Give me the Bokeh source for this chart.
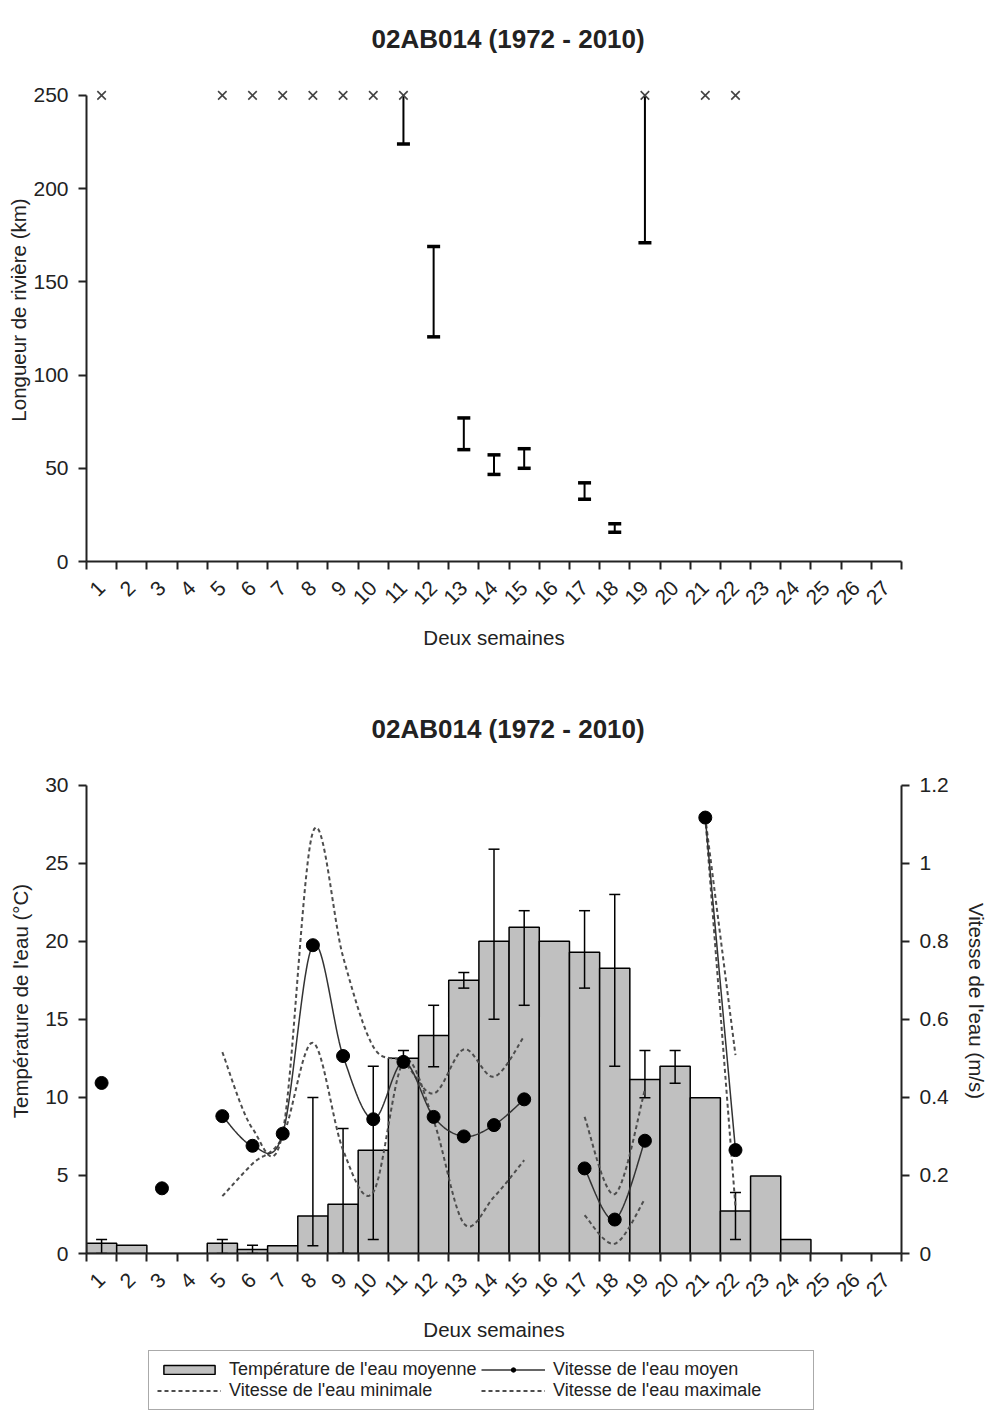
import numpy as np
from bokeh.plotting import figure
from bokeh.layouts import column
from bokeh.models import (Range1d, LinearAxis, FixedTicker, Legend, LegendItem,
                          NumeralTickFormatter)
from bokeh.embed import file_html
from bokeh.resources import INLINE

FONT = "Liberation Sans"
INK = "#222222"
nan = float("nan")

TITLE = "02AB014 (1972 - 2010)"
weeks = list(range(1, 28))

# ---- River length (km) --------------------------------------------------
capped_weeks = [1, 5, 6, 7, 8, 9, 10, 11, 19, 21, 22]   # length at the 250 km limit
cap_length = 250
span_weeks = [11, 12, 13, 14, 15, 17, 18, 19]
span_low = [224, 120.5, 60, 46.7, 50, 33.4, 15.7, 171]
span_high = [250, 169, 77, 57.2, 60.5, 42.2, 20.2, 250]

# ---- Water temperature (°C) ---------------------------------------------
temp_mean = [0.65, 0.53, 0, 0, 0.65, 0.26, 0.49, 2.4, 3.16, 6.62, 12.5, 13.97,
             17.5, 20.0, 20.9, 20.0, 19.3, 18.27, 11.15, 12.0, 9.97, 2.73, 4.97,
             0.9, 0, 0, 0]
temp_err_weeks = [1, 5, 6, 8, 9, 10, 11, 12, 13, 14, 15, 17, 18, 19, 20, 22]
temp_low = [0.0, 0.0, 0.0, 0.5, 0.0, 0.9, 12.0, 11.96, 17.0, 15.0, 15.9, 17.0,
            12.0, 9.97, 10.9, 0.9]
temp_high = [0.9, 0.9, 0.53, 10.0, 8.0, 12.0, 13.0, 15.9, 18.0, 25.9, 21.96,
             21.96, 23.0, 13.0, 13.0, 3.9]

# ---- Water speed (m/s) --------------------------------------------------
speed_mean = [0.437, nan, 0.167, nan, 0.352, 0.276, 0.307, 0.790, 0.506, 0.344,
              0.491, 0.350, 0.300, 0.329, 0.395, nan, 0.218, 0.087, 0.289, nan,
              1.117, 0.265, nan, nan, nan, nan, nan]
speed_min = [0.437, nan, 0.167, nan, 0.147, 0.23, 0.30, 0.540, 0.265, 0.157,
             0.491, 0.34, 0.077, 0.145, 0.239, nan, 0.098, 0.025, 0.14, nan,
             1.117, 0.12, nan, nan, nan, nan, nan]
speed_max = [0.437, nan, 0.167, nan, 0.516, 0.32, 0.31, 1.080, 0.76, 0.53,
             0.491, 0.41, 0.523, 0.453, 0.557, nan, 0.35, 0.152, 0.42, nan,
             1.117, 0.508, nan, nan, nan, nan, nan]

LEGEND_LABELS = ["Température de l'eau moyenne", "Vitesse de l'eau moyen",
                 "Vitesse de l'eau minimale", "Vitesse de l'eau maximale"]

BAR_STYLE = dict(fill_color="#c0c0c0", line_color="black", line_width=1.5)
MEAN_STYLE = dict(line_color="#333333", line_width=1.5)
DOT_STYLE = dict(marker="circle", size=13, fill_color="black", line_color="black")
RANGE_STYLE = dict(line_color="#4d4d4d", line_width=2, line_dash="4 3")

FRAME_LEFT = 86      # shared left border of both charts (px)
FRAME_RIGHT = 89     # shared right border of both charts (px)
TITLE_OFFSET = 285


def smoothed_runs(xs, ys, steps=24):
    """Split a series at gaps and draw each run as a smoothed (Catmull-Rom Bezier) curve."""
    runs, cur = [], []
    for x, y in zip(xs, ys):
        if y is None or np.isnan(y):
            if len(cur) > 1:
                runs.append(cur)
            cur = []
        else:
            cur.append((x, y))
    if len(cur) > 1:
        runs.append(cur)
    out_x, out_y = [], []
    t = np.linspace(0, 1, steps)[1:][:, None]
    for run in runs:
        P = np.array(run, dtype=float)
        pts = [P[0]]
        for i in range(len(P) - 1):
            p0 = P[i - 1] if i > 0 else P[i]
            p1, p2 = P[i], P[i + 1]
            p3 = P[i + 2] if i + 2 < len(P) else P[i + 1]
            c1 = p1 + (p2 - p0) / 6.0
            c2 = p2 - (p3 - p1) / 6.0
            seg = ((1 - t) ** 3) * p1 + 3 * ((1 - t) ** 2) * t * c1 + 3 * (1 - t) * t ** 2 * c2 + t ** 3 * p2
            pts.extend(seg)
        pts = np.array(pts)
        out_x.append(pts[:, 0].tolist())
        out_y.append(pts[:, 1].tolist())
    return out_x, out_y


def style_axis(ax, size="21px"):
    ax.axis_line_color = INK
    ax.axis_line_width = 2
    ax.major_tick_line_color = INK
    ax.major_tick_line_width = 2
    ax.minor_tick_line_color = INK
    ax.minor_tick_line_width = 2
    ax.major_label_text_font = FONT
    ax.major_label_text_font_size = size
    ax.major_label_text_color = INK
    ax.axis_label_text_font = FONT
    ax.axis_label_text_font_size = "20.5px"
    ax.axis_label_text_font_style = "normal"
    ax.axis_label_text_color = INK


def week_axis(ax):
    # labels sit at the week centres, tick marks on the boundaries between weeks
    ax.ticker = FixedTicker(ticks=weeks, minor_ticks=[w + 0.5 for w in range(0, 28)])
    ax.major_tick_out = 0
    ax.major_tick_in = 0
    ax.minor_tick_out = 8
    ax.minor_tick_in = 0
    ax.major_label_orientation = np.pi / 4
    ax.major_label_standoff = 15
    ax.axis_label = "Deux semaines"
    ax.axis_label_standoff = 12


def base_figure(height, top, bottom, y_range):
    p = figure(width=990, height=height, x_range=Range1d(0.5, 27.5), y_range=y_range,
               output_backend="svg", toolbar_location=None,
               min_border_top=top, min_border_bottom=bottom,
               min_border_left=FRAME_LEFT, min_border_right=FRAME_RIGHT)
    p.outline_line_color = None
    p.grid.visible = False
    p.background_fill_color = "white"
    p.border_fill_color = "white"
    p.title.text = TITLE
    p.title.align = "left"
    p.title.offset = TITLE_OFFSET
    p.title.standoff = 10
    p.title.text_font = FONT
    p.title.text_font_size = "26px"
    p.title.text_font_style = "bold"
    p.title.text_color = INK
    return p


# ======================= top panel: river length =========================
# 250 km sits 466 px above zero; the frame reaches a little higher to leave room
p1 = base_figure(680, 58, 119, Range1d(0, 269.8))
ax = p1.yaxis[0]
style_axis(ax)
ax.bounds = (0, 250)
ax.ticker = FixedTicker(ticks=[0, 50, 100, 150, 200, 250], minor_ticks=[])
ax.major_tick_out = 8
ax.major_tick_in = 0
ax.major_label_standoff = 10
ax.axis_label = "Longueur de rivière (km)"
ax.axis_label_standoff = 0
style_axis(p1.xaxis[0])
week_axis(p1.xaxis[0])

p1.segment(x0=span_weeks, y0=span_low, x1=span_weeks, y1=span_high,
           line_color="black", line_width=2)
p1.scatter(x=span_weeks, y=span_low, marker="dash", size=13,
           line_color="black", line_width=3.5)
top_caps = [(w, h) for w, h in zip(span_weeks, span_high)
            if not (w in capped_weeks and h >= cap_length)]
p1.scatter(x=[c[0] for c in top_caps], y=[c[1] for c in top_caps], marker="dash",
           size=13, line_color="black", line_width=3.5)
p1.scatter(x=capped_weeks, y=[cap_length] * len(capped_weeks), marker="x", size=12,
           line_color="#444444", line_width=1.6)

# ==================== bottom panel: temperature & speed ==================
TEMP_TOP = 32.35                      # frame top; the temperature axis stops at 30
p2 = base_figure(665, 68, 92, Range1d(0, TEMP_TOP))
p2.extra_y_ranges = {"speed": Range1d(0, TEMP_TOP * 0.04)}
ax = p2.yaxis[0]
style_axis(ax)
ax.bounds = (0, 30)
ax.ticker = FixedTicker(ticks=[0, 5, 10, 15, 20, 25, 30], minor_ticks=[])
ax.major_tick_out = 8
ax.major_tick_in = 0
ax.major_label_standoff = 10
ax.axis_label = "Température de l'eau (°C)"
ax.axis_label_standoff = 10
style_axis(p2.xaxis[0])
week_axis(p2.xaxis[0])

rax = LinearAxis(y_range_name="speed", axis_label="Vitesse de l'eau (m/s)")
style_axis(rax)
rax.bounds = (0, 1.2)
rax.ticker = FixedTicker(ticks=[0, 0.2, 0.4, 0.6, 0.8, 1.0, 1.2], minor_ticks=[])
rax.formatter = NumeralTickFormatter(format="0.[0]")
rax.major_tick_out = 8
rax.major_tick_in = 0
rax.major_label_standoff = 10
rax.axis_label_standoff = 13
p2.add_layout(rax, "right")

p2.vbar(x=weeks, top=temp_mean, width=1.0, **BAR_STYLE)
p2.segment(x0=temp_err_weeks, y0=temp_low, x1=temp_err_weeks, y1=temp_high,
           line_color="black", line_width=1.5)
p2.scatter(x=temp_err_weeks + temp_err_weeks, y=temp_low + temp_high, marker="dash",
           size=11, line_color="black", line_width=1.5)

mx, my = smoothed_runs(weeks, speed_min)
p2.multi_line(xs=mx, ys=my, y_range_name="speed", **RANGE_STYLE)
Mx, My = smoothed_runs(weeks, speed_max)
p2.multi_line(xs=Mx, ys=My, y_range_name="speed", **RANGE_STYLE)
ax_, ay_ = smoothed_runs(weeks, speed_mean)
p2.multi_line(xs=ax_, ys=ay_, y_range_name="speed", **MEAN_STYLE)
p2.scatter(x=weeks, y=speed_mean, y_range_name="speed", **DOT_STYLE)

# ======================= legend strip under the charts ===================
p3 = figure(width=990, height=73, x_range=Range1d(0, 1), y_range=Range1d(0, 1),
            output_backend="svg", toolbar_location=None,
            x_axis_location=None, y_axis_location=None,
            min_border=0, min_border_left=0, min_border_right=0,
            min_border_top=0, min_border_bottom=0)
p3.outline_line_color = None
p3.grid.visible = False
# legend keys: styled renderers holding one undefined point, so only the key shows
blank = dict(x=[nan], y=[nan])
k_bar = p3.vbar(x=[nan], top=[nan], width=1.0, **BAR_STYLE)
k_mean = p3.line(**blank, **MEAN_STYLE)
k_dot = p3.scatter(**blank, **DOT_STYLE)
k_min = p3.line(**blank, **RANGE_STYLE)
k_max = p3.line(**blank, **RANGE_STYLE)

legend = Legend(items=[
    LegendItem(label=LEGEND_LABELS[0], renderers=[k_bar]),
    LegendItem(label=LEGEND_LABELS[1], renderers=[k_mean, k_dot]),
    LegendItem(label=LEGEND_LABELS[2], renderers=[k_min]),
    LegendItem(label=LEGEND_LABELS[3], renderers=[k_max]),
], orientation="horizontal", ncols=2, location=(148 - FRAME_LEFT, 8))
legend.label_text_font = FONT
legend.label_text_font_size = "18px"
legend.label_text_color = INK
legend.border_line_color = "#555555"
legend.border_line_width = 1.5
legend.glyph_width = 64
legend.glyph_height = 11
legend.label_standoff = 8
legend.label_width = 252
legend.spacing = 0
legend.padding = 8
legend.margin = 0
legend.label_height = 18
legend.background_fill_color = "white"
legend.background_fill_alpha = 1.0
p3.add_layout(legend, "center")

page = column(p1, p2, p3)
open("out.html", "w").write(file_html(page, INLINE))
